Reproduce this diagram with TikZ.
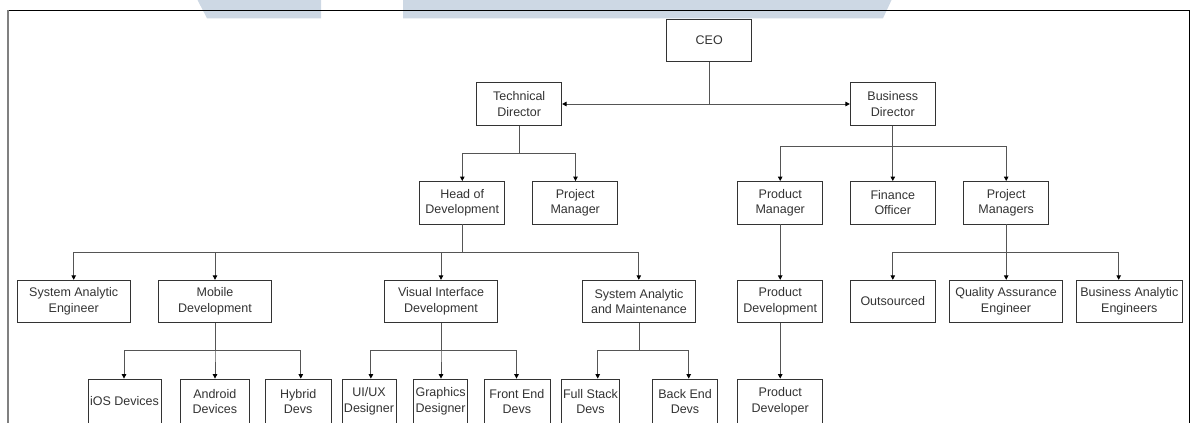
\documentclass[tikz,border=0pt]{standalone}
\usepackage{fontspec}
\setmainfont{Liberation Sans}
\usetikzlibrary{arrows.meta}
\definecolor{boxline}{HTML}{333333}
\definecolor{linkgray}{HTML}{555555}
\definecolor{stamp}{HTML}{CDD8E4}
\tikzstyle{unit}=[draw=boxline,fill=white,text=boxline,align=center,inner sep=0pt,minimum height=42.5pt,line width=0.8pt,font=\fontsize{12.5}{15.5}\selectfont]
\tikzstyle{lowunit}=[unit,minimum height=45pt]
\tikzstyle{link}=[draw=linkgray,line width=0.9pt,-{Triangle[length=4.5pt,width=4.5pt,color=black]}]

\begin{document}
\begin{tikzpicture}[x=1pt,y=-1pt]

  \useasboundingbox (0,0) rectangle (1197,423);
  \clip (0,0) rectangle (1197,423);

  % background marks and frame
  \fill[stamp] (197,-1) -- (321,-1) -- (321,18.3) -- (207,18.3) -- cycle;
  \fill[stamp] (403,-1) -- (892,-1) -- (883,18.3) -- (403,18.3) -- cycle;
  \draw[black,line width=0.9pt] (8.3,10.7) -- (1189.3,10.7) -- (1189.3,430);
  \draw[gray,line width=1.8pt] (8.3,10.2) -- (8.3,430);

    \foreach \pos/\name/\w/\txt in {{(709.2,40.3)/ceo/85/CEO}, {(519.2,104)/techdir/85/Technical\\Director}, {(892.8,104)/busdir/85/Business\\Director},
        {(462.2,202.7)/hod/85/Head of\\Development}, {(575.2,202.7)/projmgr/85/Project\\Manager}, {(780.2,202.7)/prodmgr/85/Product\\Manager},
        {(892.8,202.7)/finance/85/Finance\\Officer}, {(1006.2,202.7)/projmgrs/85/Project\\Managers},
        {(73.7,301.5)/sae/113/System Analytic\\Engineer}, {(215,301.5)/mobile/113/Mobile\\Development}, {(441,301.5)/visual/113/Visual Interface\\Development},
        {(639,301.5)/sysmaint/113/System Analytic\\and Maintenance}, {(780.2,301.5)/proddev/85/Product\\Development}, {(892.8,301.5)/outsourced/85/Outsourced},
        {(1006,301.5)/qa/113/Quality Assurance\\Engineer}, {(1129.3,301.5)/bae/106.7/Business Analytic\\Engineers}}
        \node[unit,minimum width=\w*1pt] (\name) at \pos {\txt};

    \foreach \pos/\name/\w/\txt in {{(124.5,401.5)/ios/73/iOS Devices}, {(214.8,401.5)/android/69/Android\\Devices}, {(298.2,401.5)/hybrid/66.4/Hybrid\\Devs},
        {(369,401.5)/uiux/54/{UI/UX}\\Designer}, {(440.6,401.5)/graphics/54/Graphics\\Designer}, {(516.9,401.5)/frontend/66/Front End\\Devs},
        {(590.5,401.5)/fullstack/58.5/Full Stack\\Devs}, {(685,401.5)/backend/64.7/Back End\\Devs}, {(780.2,401.5)/proddevr/85/Product\\Developer}}
        \node[lowunit,minimum width=\w*1pt] (\name) at \pos {\txt};

  \draw[link] (ceo.south) |- (techdir.east);
  \draw[link] (ceo.south) |- (busdir.west);

    \foreach \source/\dest/\bus/\ax in {techdir/hod/153.3/462.3, techdir/projmgr/153.3/575.5,
        busdir/prodmgr/146.7/780.2, busdir/finance/146.7/892.8, busdir/projmgrs/146.7/1006.2,
        hod/sae/252.3/73.7, hod/mobile/252.3/215, hod/visual/252.3/441, hod/sysmaint/252.3/638.8,
        prodmgr/proddev/252.3/780.2, projmgrs/outsourced/252.3/892.8, projmgrs/qa/252.3/1006.2, projmgrs/bae/252.3/1118.7,
        mobile/ios/350.7/124, mobile/android/350.7/215, mobile/hybrid/350.7/300.8,
        visual/uiux/350.7/370.9, visual/graphics/350.7/441, visual/frontend/350.7/516.5,
        sysmaint/fullstack/350.7/597.7, sysmaint/backend/350.7/688.7, proddev/proddevr/350.7/780.2}
                \draw[link] (\source.south) -- (\source.south |- 0,\bus) -| (\dest.north -| \ax,0);

\end{tikzpicture}
\end{document}
